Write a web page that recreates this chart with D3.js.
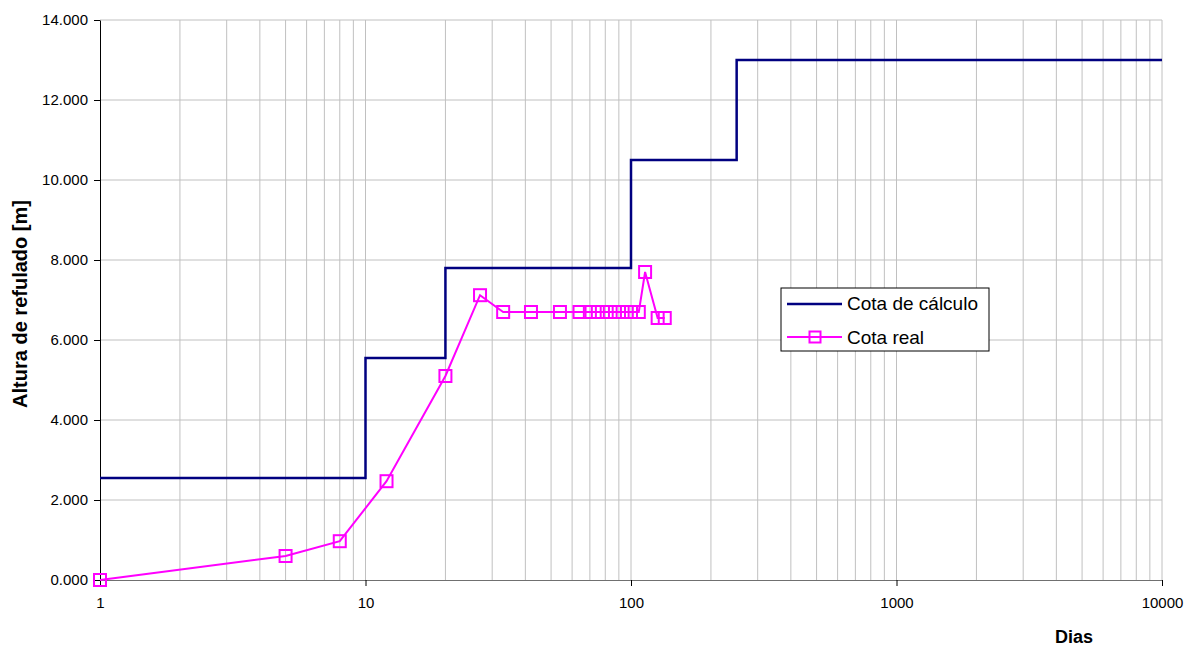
<!DOCTYPE html>
<html>
<head>
<meta charset="utf-8">
<script src="https://cdn.jsdelivr.net/npm/d3@7"></script>
<style>
  body { margin: 0; background: #fff; }
  svg { font-family: "Liberation Sans", Arial, sans-serif; }
</style>
</head>
<body>
<svg width="1195" height="646"></svg>
<script>
// cota de calculo (step line)
const calcDias = [1, 10, 10, 20, 20, 100, 100, 250, 250, 10000];
const calcCota = [2.55, 2.55, 5.55, 5.55, 7.8, 7.8, 10.5, 10.5, 13, 13];

// cota real (measured)
const realDias = [1, 5, 8, 12, 20, 27, 33, 42, 54, 64, 70, 75, 81, 87, 93, 100, 107, 113, 126, 134];
const realCota = [0, 0.6, 0.97, 2.47, 5.1, 7.12, 6.7, 6.7, 6.7, 6.7, 6.7, 6.7, 6.7, 6.7, 6.7, 6.7, 6.7, 7.7, 6.55, 6.55];

const yTicks = [0, 2, 4, 6, 8, 10, 12, 14];
const xTicks = [1, 10, 100, 1000, 10000];

const svg = d3.select("svg");
const margin = {left: 100, right: 1162, top: 20, bottom: 580};

const x = d3.scaleLog().domain([1, 10000]).range([margin.left, margin.right]);
const y = d3.scaleLinear().domain([0, 14]).range([margin.bottom, margin.top]);

// minor grid (vertical)
const minor = [];
for (let d = 1; d < 10000; d *= 10)
  for (let k = 2; k <= 10; k++) minor.push(d * k);

svg.append("g")
  .selectAll("line")
  .data(minor)
  .join("line")
    .attr("x1", d => x(d)).attr("x2", d => x(d))
    .attr("y1", y(0)).attr("y2", y(14))
    .attr("stroke", "#c0c0c0")
    .attr("stroke-width", 1);

svg.append("g")
  .selectAll("line")
  .data(yTicks.slice(1))
  .join("line")
    .attr("x1", x(1)).attr("x2", x(10000))
    .attr("y1", d => y(d)).attr("y2", d => y(d))
    .attr("stroke", "#c0c0c0")
    .attr("stroke-width", 1);

// axes
const yAxis = svg.append("g")
    .attr("transform", `translate(${margin.left},0)`)
    .call(d3.axisLeft(y).tickValues(yTicks).tickFormat(d3.format(".3f"))
      .tickSize(6).tickPadding(6).tickSizeOuter(0));
yAxis.select(".domain").attr("stroke", "#000");
yAxis.selectAll("text").style("font-size", "15px").attr("fill", "#000");

const xAxis = svg.append("g")
    .attr("transform", `translate(0,${margin.bottom})`)
    .call(d3.axisBottom(x).tickValues(xTicks).tickFormat(d3.format("d")).tickSize(6).tickSizeOuter(0));
xAxis.select(".domain").attr("stroke", "#707070");
xAxis.selectAll("text").style("font-size", "15px").attr("fill", "#000")
    .attr("y", 28).attr("dy", 0);

// series
const line = d3.line().x(d => x(d[0])).y(d => y(d[1]));

svg.append("path")
    .datum(d3.zip(calcDias, calcCota))
    .attr("d", line)
    .attr("fill", "none")
    .attr("stroke", "#000080")
    .attr("stroke-width", 2.5);

const real = d3.zip(realDias, realCota);
svg.append("path")
    .datum(real)
    .attr("d", line)
    .attr("fill", "none")
    .attr("stroke", "#ff00ff")
    .attr("stroke-width", 2);

svg.append("g")
  .selectAll("rect")
  .data(real)
  .join("rect")
    .attr("x", d => x(d[0]) - 6).attr("y", d => y(d[1]) - 6)
    .attr("width", 12).attr("height", 12)
    .attr("fill", "none")
    .attr("stroke", "#ff00ff")
    .attr("stroke-width", 2);

// legend
const lg = svg.append("g").attr("transform", "translate(781,288)");
lg.append("rect").attr("width", 208).attr("height", 63)
    .attr("fill", "#fff").attr("stroke", "#000").attr("stroke-width", 1);
lg.append("line").attr("x1", 6).attr("x2", 61).attr("y1", 16).attr("y2", 16)
    .attr("stroke", "#000080").attr("stroke-width", 2.5);
lg.append("text").attr("x", 66).attr("y", 22).text("Cota de cálculo").style("font-size", "19px");
lg.append("line").attr("x1", 6).attr("x2", 61).attr("y1", 49).attr("y2", 49)
    .attr("stroke", "#ff00ff").attr("stroke-width", 2);
lg.append("rect").attr("x", 28.5).attr("y", 43.5).attr("width", 11).attr("height", 11)
    .attr("fill", "none").attr("stroke", "#ff00ff").attr("stroke-width", 2);
lg.append("text").attr("x", 66).attr("y", 56).text("Cota real").style("font-size", "19px");

// titles
svg.append("text")
    .attr("transform", "translate(27,304) rotate(-90)")
    .attr("text-anchor", "middle")
    .style("font-size", "20px").style("font-weight", "bold")
    .text("Altura de refulado [m]");

svg.append("text")
    .attr("x", 1074).attr("y", 643)
    .attr("text-anchor", "middle")
    .style("font-size", "18px").style("font-weight", "bold")
    .text("Dias");
</script>
</body>
</html>
